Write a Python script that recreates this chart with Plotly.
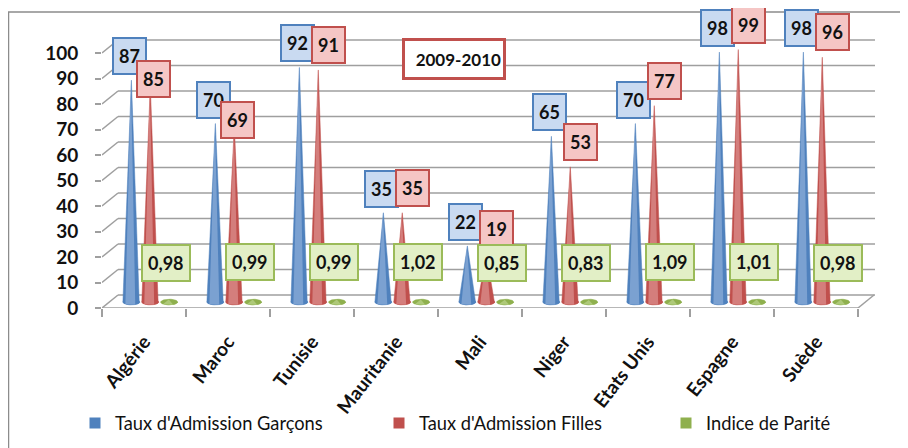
import numpy as np
import plotly.graph_objects as go

# ---------------- data ----------------
countries = ["Algérie", "Maroc", "Tunisie", "Mauritanie", "Mali", "Niger",
             "Etats Unis", "Espagne", "Suède"]
garcons = [87, 70, 92, 35, 22, 65, 70, 98, 98]
filles = [85, 69, 91, 35, 19, 53, 77, 99, 96]
parite = [0.98, 0.99, 0.99, 1.02, 0.85, 0.83, 1.09, 1.01, 0.98]
y_ticks = list(range(0, 101, 10))
series_names = ["Taux d'Admission Garçons", "Taux d'Admission Filles", "Indice de Parité"]
period = "2009-2010"

# label placement style (red labels staggered below blue ones)
stagger_red = [True, True, False, False, False, False, False, False, False]

# ---------------- geometry / style ----------------
# page body has an 8px margin: figure is placed at (8, 8) in the window
OFF = 8
W, H = 908 - OFF, 448 - OFF
PLOT_LEFT, PLOT_TOP, PLOT_BOTTOM, PLOT_RIGHT = 102, 12, 308, 875   # window pixels
L = PLOT_LEFT - OFF
T = PLOT_TOP - OFF
B = H - (PLOT_BOTTOM - OFF)
R = W - (PLOT_RIGHT - OFF)
plot_w = W - L - R
plot_h = H - T - B
PX_CAT = 84.0
PX_UNIT = 2.55
x_range = [-0.5, -0.5 + plot_w / PX_CAT]
MID_OFF = 6     # px: cones depth offset
BACK_OFF = 13   # px: back wall offset
BACK_DX = 16 / PX_CAT

FONT = "Lato"
BLUE, BLUE_L = "#4f81bd", "#86a9d6"
RED, RED_L = "#c0504d", "#d88a88"
GREEN, GREEN_L = "#8fb04e", "#b5cf85"
GRID = "#9f9f9f"
TXT = "#111111"


def px_x(px):
    return (px - OFF - L) / plot_w


def px_y(py):
    return (H - B - (py - OFF)) / plot_h


def cx(px):
    return (px - OFF) / W


def cy(py):
    return 1 - (py - OFF) / H


halfw = 8.5 / PX_CAT
eh = 2.8 / PX_UNIT


def cone(xc, v):
    t = np.linspace(0, np.pi, 25)
    xs = [xc] + list(xc + halfw * np.cos(t)) + [xc]
    ys = [v] + list(-eh * np.sin(t)) + [v]
    return xs, ys


def base_ellipse(xc):
    t = np.linspace(0, 2 * np.pi, 41)
    return list(xc + halfw * np.cos(t)), list(eh * np.sin(t))


def highlight(xc, v):
    t = np.linspace(np.pi * 0.35, np.pi * 0.75, 10)
    xs = [xc - halfw * 0.05] + list(xc + halfw * np.cos(t)) + [xc - halfw * 0.05]
    ys = [v] + list(-eh * np.sin(t)) + [v]
    return xs, ys


fig = go.Figure()

series = [
    (garcons, -0.15, BLUE, BLUE_L),
    (filles, 0.075, RED, RED_L),
    (parite, 0.30, GREEN, GREEN_L),
]
for vals, off, col, light in series:
    for i, v in enumerate(vals):
        ex, ey = base_ellipse(i + off)
        fig.add_trace(go.Scatter(x=ex, y=ey, yaxis="y2", mode="lines", fill="toself",
                                 fillcolor=col, line=dict(width=0.5, color=col),
                                 showlegend=False, hoverinfo="skip"))
        xs, ys = cone(i + off, v)
        fig.add_trace(go.Scatter(x=xs, y=ys, yaxis="y2", mode="lines", fill="toself",
                                 fillcolor=col, line=dict(width=0.5, color=col),
                                 showlegend=False, hoverinfo="skip"))
        hx, hy = highlight(i + off, v)
        fig.add_trace(go.Scatter(x=hx, y=hy, yaxis="y2", mode="lines", fill="toself",
                                 fillcolor=light, line=dict(width=0), opacity=0.8,
                                 showlegend=False, hoverinfo="skip"))

# legend entries (one legend box each, placed like the reference)
legend_ids = ["legend", "legend2", "legend3"]
legend_x = [75, 379, 666]   # window px of each legend box's left edge
for name, col, lid in zip(series_names, [BLUE, RED, GREEN], legend_ids):
    fig.add_trace(go.Scatter(x=[None], y=[None], mode="markers", name=name, legend=lid,
                             marker=dict(symbol="square", size=11, color=col)))

shapes = []
back_off_units = BACK_OFF / PX_UNIT
for v in y_ticks:
    shapes.append(dict(type="line", xref="x", yref="y3", x0=-0.5 + BACK_DX, x1=x_range[1],
                       y0=v, y1=v, line=dict(color=GRID, width=1.5), layer="below"))
    shapes.append(dict(type="line", xref="x", yref="y", x0=-0.5, x1=-0.5 + BACK_DX,
                       y0=v, y1=v + back_off_units, line=dict(color=GRID, width=1.5),
                       layer="below"))
n = len(countries)
shapes.append(dict(type="line", xref="x", yref="y", x0=-0.5, x1=n - 0.5, y0=0, y1=0,
                   line=dict(color=GRID, width=1.5), layer="below"))
shapes.append(dict(type="line", xref="x", yref="y", x0=n - 0.5, x1=n - 0.5 + BACK_DX,
                   y0=0, y1=back_off_units, line=dict(color=GRID, width=1.5), layer="below"))
# outer chart border
shapes.append(dict(type="rect", xref="paper", yref="paper", x0=px_x(8.5), x1=px_x(915),
                   y0=px_y(455), y1=px_y(12), line=dict(color="#8c8c8c", width=1.5)))

annotations = []


def box(x, y, text, bg, border, xshift, yshift):
    return dict(x=x, y=y, xref="x", yref="y2", text=text, showarrow=False,
                xanchor="center", yanchor="middle",
                xshift=xshift, yshift=yshift, height=24,
                font=dict(family=FONT, size=18, color=TXT, weight=700),
                bgcolor=bg, bordercolor=border, borderwidth=2, borderpad=5)


for i in range(n):
    annotations.append(box(i - 0.15, garcons[i], str(garcons[i]), "#c9daf1", BLUE, -2, 24))
    if stagger_red[i]:
        annotations.append(box(i + 0.075, filles[i], str(filles[i]), "#f5c6c5", RED, 3, 6))
    else:
        annotations.append(box(i + 0.075, filles[i], str(filles[i]), "#f5c6c5", RED, 10, 25))
    annotations.append(box(i + 0.30, parite[i], f"{parite[i]:.2f}".replace(".", ","),
                           "#e2efc6", "#9bbb59", -3, 37))

annotations.append(dict(xref="paper", yref="paper", x=px_x(454), y=px_y(59),
                        xanchor="center", yanchor="middle",
                        text=period, showarrow=False, width=94, height=32, align="right",
                        font=dict(family=FONT, size=17, color=TXT, weight=700),
                        bgcolor="white", bordercolor=RED, borderwidth=3, borderpad=2))

legend_common = dict(orientation="h", xref="container", yref="container",
                     xanchor="left", yanchor="middle",
                     font=dict(family=FONT, size=18.3, color=TXT),
                     bgcolor="rgba(0,0,0,0)", borderwidth=0)
legends = {}
for lid, lx in zip(legend_ids, legend_x):
    legends[lid] = dict(legend_common, x=cx(lx), y=cy(423))

fig.update_layout(
    width=W, height=H,
    margin=dict(l=L, r=R, t=T, b=B, autoexpand=False),
    paper_bgcolor="white", plot_bgcolor="white",
    font=dict(family=FONT, color=TXT),
    xaxis=dict(range=x_range, tickmode="array", tickvals=list(range(n)), ticktext=countries,
               tickangle=-52, ticks="", showgrid=False, zeroline=False, showline=False,
               ticklabelstandoff=18,
               tickfont=dict(family=FONT, size=19, color=TXT, weight=700),
               minor=dict(tickmode="array", tickvals=[i - 0.5 for i in range(n + 1)],
                          ticks="outside", ticklen=8, tickcolor=GRID, tickwidth=1.5)),
    yaxis=dict(range=[0, plot_h / PX_UNIT], tickmode="array", tickvals=y_ticks,
               ticks="outside", ticklen=6, tickcolor=GRID, tickwidth=1.5,
               showgrid=False, zeroline=False, showline=False, ticklabelstandoff=13,
               tickfont=dict(family=FONT, size=19, color=TXT, weight=700)),
    yaxis2=dict(range=[-MID_OFF / PX_UNIT, (plot_h - MID_OFF) / PX_UNIT], overlaying="y",
                visible=False),
    yaxis3=dict(range=[-BACK_OFF / PX_UNIT, (plot_h - BACK_OFF) / PX_UNIT], overlaying="y",
                visible=False),
    showlegend=True,
    shapes=shapes,
    annotations=annotations,
    **legends,
)

fig.write_html("out.html")
